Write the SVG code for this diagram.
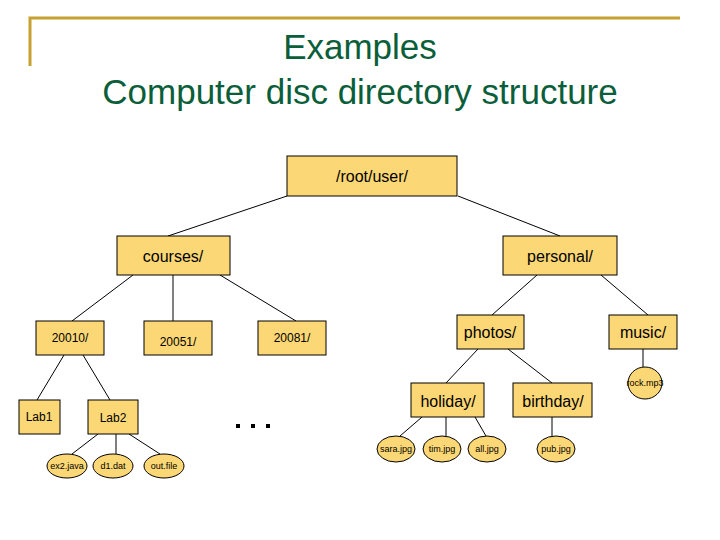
<svg xmlns="http://www.w3.org/2000/svg" width="720" height="540" viewBox="0 0 720 540">
<style>
.b{fill:#fcd775;stroke:#000;stroke-width:1}
.e{fill:#fcd775;stroke:#000;stroke-width:1}
text{font-family:"Liberation Sans",Arial,sans-serif;text-anchor:middle;fill:#000}
.l{font-size:16px}.m{font-size:12px}.s{font-size:9px}
.c line{stroke:#000;stroke-width:1}
.t{font-size:35px;fill:#0b5e3a}
</style>
<rect width="720" height="540" fill="#fff"/>
<path d="M30 66V18H680" fill="none" stroke="#c8a230" stroke-width="3"/>
<text class="t" x="360" y="59">Examples</text>
<text class="t" x="360" y="104">Computer disc directory structure</text>
<g class="c">
<line x1="287" y1="196" x2="168" y2="236"/><line x1="458" y1="196" x2="560" y2="236"/>
<line x1="133" y1="275" x2="72" y2="321"/><line x1="173" y1="275" x2="173" y2="321"/><line x1="220" y1="275" x2="296" y2="321"/>
<line x1="537" y1="275" x2="492" y2="315"/><line x1="601" y1="275" x2="648" y2="315"/>
<line x1="64" y1="355" x2="37" y2="400"/><line x1="83" y1="355" x2="110" y2="400"/>
<line x1="98" y1="434" x2="72" y2="454"/><line x1="116" y1="434" x2="116" y2="454"/><line x1="129" y1="434" x2="160" y2="454"/>
<line x1="478" y1="349" x2="446" y2="383"/><line x1="508" y1="349" x2="552" y2="383"/>
<line x1="422" y1="417" x2="400" y2="436"/><line x1="446" y1="417" x2="446" y2="436"/><line x1="475" y1="417" x2="486" y2="436"/>
<line x1="552" y1="417" x2="552" y2="436"/><line x1="643" y1="349" x2="643" y2="367"/>
</g>
<g id="root"><rect class="b" x="287" y="156" width="170" height="40"/><text class="l" x="372" y="182">/root/user/</text></g>
<g id="courses"><rect class="b" x="117" y="236" width="113" height="39"/><text class="l" x="173" y="262">courses/</text></g>
<g id="personal"><rect class="b" x="503" y="236" width="114" height="39"/><text class="l" x="560" y="262">personal/</text></g>
<g id="n20010"><rect class="b" x="36" y="321" width="68" height="34"/><text class="m" x="70" y="342">20010/</text></g>
<g id="n20051"><rect class="b" x="144" y="321" width="68" height="34"/><text class="m" x="178" y="346">20051/</text></g>
<g id="n20081"><rect class="b" x="258" y="321" width="68" height="34"/><text class="m" x="292" y="342">20081/</text></g>
<g id="photos"><rect class="b" x="457" y="315" width="67" height="34"/><text class="l" x="490" y="338">photos/</text></g>
<g id="music"><rect class="b" x="609" y="315" width="68" height="34"/><text class="l" x="643" y="338">music/</text></g>
<g id="lab1"><rect class="b" x="19" y="400" width="41" height="34"/><text class="m" x="39" y="421">Lab1</text></g>
<g id="lab2"><rect class="b" x="88" y="400" width="50" height="34"/><text class="m" x="113" y="422">Lab2</text></g>
<g id="holiday"><rect class="b" x="411" y="383" width="73" height="34"/><text class="l" x="448" y="407">holiday/</text></g>
<g id="birthday"><rect class="b" x="513" y="383" width="79" height="34"/><text class="l" x="553" y="407">birthday/</text></g>
<g id="ex2"><ellipse class="e" cx="67" cy="466" rx="20" ry="12"/><text class="s" x="67" y="469">ex2.java</text></g>
<g id="d1"><ellipse class="e" cx="113" cy="466" rx="20" ry="12"/><text class="s" x="113" y="469">d1.dat</text></g>
<g id="out"><ellipse class="e" cx="164" cy="466" rx="20" ry="12"/><text class="s" x="164" y="469">out.file</text></g>
<g id="sara"><ellipse class="e" cx="396" cy="449" rx="19" ry="13"/><text class="s" x="396" y="452">sara.jpg</text></g>
<g id="tim"><ellipse class="e" cx="442" cy="449" rx="19" ry="13"/><text class="s" x="442" y="452">tim.jpg</text></g>
<g id="all"><ellipse class="e" cx="487" cy="449" rx="19" ry="13"/><text class="s" x="487" y="452">all.jpg</text></g>
<g id="pub"><ellipse class="e" cx="556" cy="449" rx="19" ry="13"/><text class="s" x="556" y="452">pub.jpg</text></g>
<g id="rock"><ellipse class="e" cx="645" cy="383" rx="17" ry="16"/><text class="s" x="645" y="386">rock.mp3</text></g>
<g id="dots" fill="#000"><rect x="236" y="424" width="4" height="4"/><rect x="251" y="424" width="4" height="4"/><rect x="266" y="424" width="4" height="4"/></g>
</svg>
